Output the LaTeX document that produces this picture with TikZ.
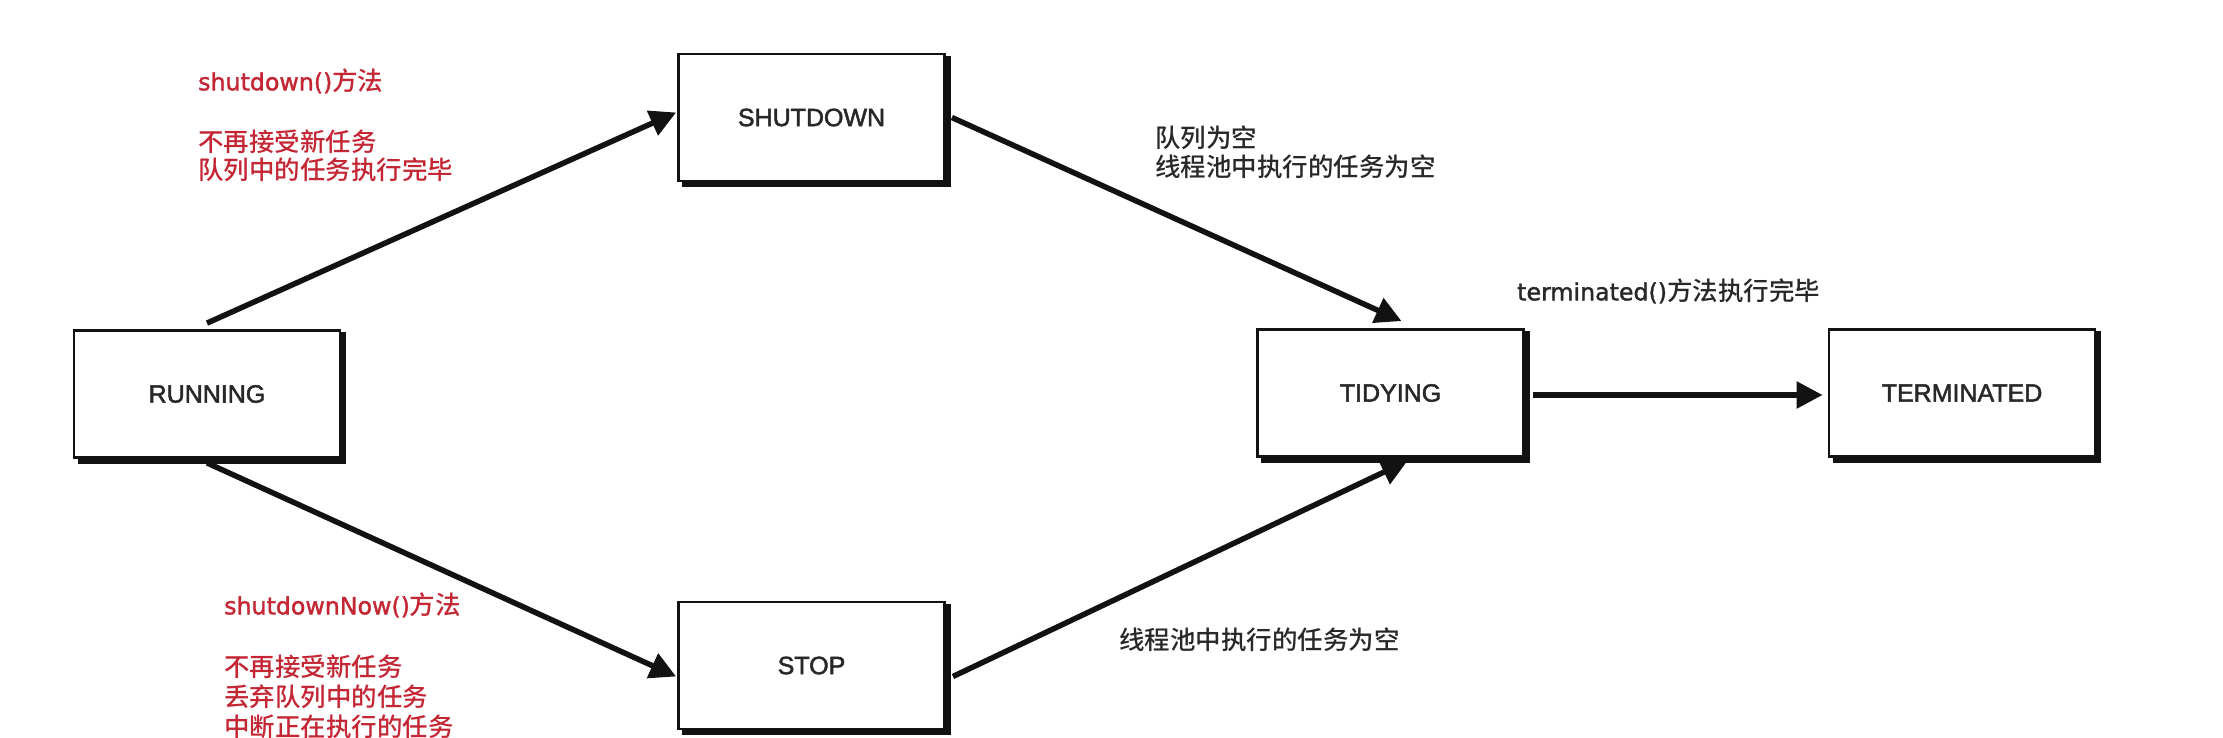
\documentclass[tikz,border=0pt]{standalone}
\usepackage{fontspec}
\setmainfont{Liberation Sans}[FakeBold=2]
\newfontfamily\cjk{Noto Sans CJK SC}[UprightFont={* Medium}]
\newfontfamily\lat{DejaVu Sans}[FakeBold=1.5]
\usetikzlibrary{arrows.meta,calc}
\definecolor{redtxt}{RGB}{196,38,52}
\definecolor{ink}{RGB}{18,18,18}
\definecolor{txt}{RGB}{40,40,40}
\begin{document}
\begin{tikzpicture}[x=1pt,y=-1pt,
  statebox/.style={draw=ink, line width=2.8pt, fill=white, minimum width=266pt,
    minimum height=127pt, inner sep=0pt, text=txt, font=\fontsize{25}{30}\selectfont},
  boxshadow/.style={draw=ink, line width=4.8pt, line cap=butt, line join=miter},
  arr/.style={draw=ink, line width=5.5pt, -{Triangle[length=26pt,width=26pt]}},
  redlbl/.style={anchor=west, align=left, inner sep=0pt, text=redtxt},
  blklbl/.style={anchor=west, align=left, inner sep=0pt, text=txt},
]
\fill[white] (0,0) rectangle (2223,738);
\useasboundingbox (0,0) rectangle (2223,738);

% state boxes
\node[statebox] (run)  at (207,394)   {RUNNING};
\node[statebox] (shut) at (811.5,117.5) {SHUTDOWN};
\node[statebox] (stop) at (811.5,665.5) {STOP};
\node[statebox] (tid)  at (1390.5,393) {TIDYING};
\node[statebox] (term) at (1962,393)  {TERMINATED};

\foreach \b in {run,shut,stop,tid,term}{
  \draw[boxshadow] ([xshift=5pt,yshift=-2.2pt]\b.south west) -- ([xshift=2.2pt,yshift=-2.2pt]\b.south east)
    -- ([xshift=2.2pt,yshift=-3pt]\b.north east);
}

% connectors
\draw[arr] ([yshift=6pt]run.north) -- ([xshift=-1pt,yshift=5pt]shut.west);
\draw[arr] ([yshift=-4pt]run.south) -- ([xshift=-1pt,yshift=-11pt]stop.west);
\draw[arr] ([xshift=6pt]shut.east) -- ([xshift=11pt,yshift=7pt]tid.north);
\draw[arr] ([xshift=7pt,yshift=-11pt]stop.east) -- ([xshift=17pt,yshift=-3pt]tid.south);
\draw[arr] ([xshift=8pt,yshift=-2pt]tid.east) -- ([xshift=-5pt,yshift=-2pt]term.west);

% red labels
\node[redlbl, font=\cjk\fontsize{25.5}{28}\selectfont] (t1) at (198,81)
  {{\lat\fontsize{23.7}{28}\selectfont shutdown()}方法};
\node[redlbl, font=\cjk\fontsize{25.5}{28}\selectfont] (t1b) at (198,156)
  {不再接受新任务\\队列中的任务执行完毕};
\node[redlbl, font=\cjk\fontsize{25.5}{30}\selectfont] (t2) at (224,605)
  {{\lat\fontsize{23.7}{28}\selectfont shutdownNow()}方法};
\node[redlbl, font=\cjk\fontsize{25.5}{30}\selectfont] (t2b) at (224,697)
  {不再接受新任务\\丢弃队列中的任务\\中断正在执行的任务};

% black labels
\node[blklbl, font=\cjk\fontsize{25.5}{29}\selectfont] (t3) at (1155,152.5)
  {队列为空\\线程池中执行的任务为空};
\node[blklbl, font=\cjk\fontsize{25.5}{29}\selectfont] (t4) at (1517,291)
  {{\lat\fontsize{23.7}{28}\selectfont terminated()}方法执行完毕};
\node[blklbl, font=\cjk\fontsize{25.5}{29}\selectfont] (t5) at (1119,640)
  {线程池中执行的任务为空};
\end{tikzpicture}
\end{document}
